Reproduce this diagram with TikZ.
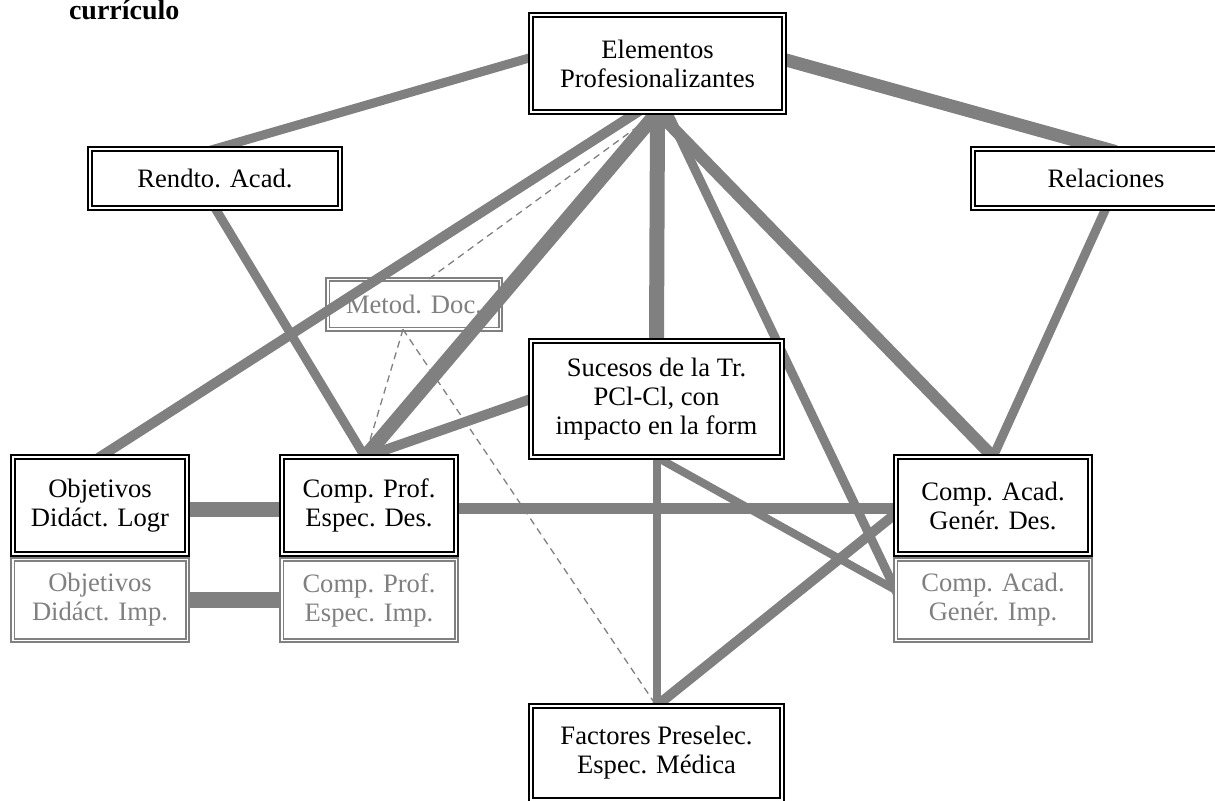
\documentclass[tikz,border=0pt]{standalone}
\usepackage{fontspec}
\setmainfont{Liberation Serif}
\definecolor{gris}{RGB}{128,128,128}
\pgfdeclarelayer{fondo}
\pgfdeclarelayer{lineas}
\pgfsetlayers{fondo,lineas,main}

\begin{document}
\begin{tikzpicture}[x=0.5pt,y=-0.5pt,
        font=\fontsize{13.3}{14.5}\selectfont,
        caja/.style={draw=black,double=white,double distance=0.9pt,line width=1pt,fill=white,
            align=center,inner sep=0pt,outer sep=0pt},
        cajagris/.style={draw=gris,text=gris,double=white,double distance=0.9pt,line width=0.85pt,
            fill=white,align=center,inner sep=0pt,outer sep=0pt},
        nexo/.style={draw=gris,line width=#1,shorten <=-5pt,shorten >=-5pt},
        nexod/.style={draw=gris,line width=0.65pt,dash pattern=on 3.5pt off 2.5pt}]
            \useasboundingbox (0,0) rectangle (1215,801);
            \clip (0,0) rectangle (1215,801);
            \node[anchor=base west,font=\fontsize{14}{16}\selectfont\bfseries] (titulo) at (62,20) {currículo};
            \node[caja,minimum width=126.6pt,minimum height=48.6pt] (elem) at (657.5,63.5) {Elementos\\Profesionalizantes};
            \node[caja,minimum width=125.1pt,minimum height=29.6pt] (rendto) at (215,178.5) {Rendto. Acad.};
            \node[caja,minimum width=133.1pt,minimum height=29.6pt] (relac) at (1106,178.5) {Relaciones};
            \node[caja,minimum width=125.6pt,minimum height=58.1pt] (suc) at (656.5,399) {Sucesos de la Tr.\\PCl-Cl, con\\impacto en la form};
            \node[cajagris,minimum width=87.4pt,minimum height=40.4pt] (objI) at (100,600) {Objetivos\\Didáct. Imp.};
            \node[cajagris,minimum width=87.4pt,minimum height=40.4pt] (cppI) at (369,600) {Comp. Prof.\\Espec. Imp.};
            \node[cajagris,minimum width=97.4pt,minimum height=40.4pt] (caI) at (993,600) {Comp. Acad.\\Genér. Imp.};
            \node[caja,minimum width=87.1pt,minimum height=48.6pt] (objL) at (100,505.5) {Objetivos\\Didáct. Logr};
            \node[caja,minimum width=87.1pt,minimum height=48.6pt] (cppD) at (369,505.5) {Comp. Prof.\\Espec. Des.};
            \node[caja,minimum width=97.1pt,minimum height=48.6pt] (caD) at (993,505.5) {Comp. Acad.\\Genér. Des.};
            \node[caja,minimum width=125.6pt,minimum height=47.1pt] (fact) at (656.5,753) {Factores Preselec.\\Espec. Médica};
            \begin{pgfonlayer}{fondo}
                \node[cajagris,minimum width=86.4pt,minimum height=24.9pt] (metod) at (414,304.5) {Metod. Doc.};
            \end{pgfonlayer}
            \begin{pgfonlayer}{lineas}
                \draw[nexo=4.5pt] ([yshift=3pt]elem.west) -- (rendto.north);
                \draw[nexo=6.5pt] ([yshift=2pt]elem.east) -- (relac.north);
                \draw[nexo=5pt] ([xshift=-10pt]elem.south) -- (objL.north);
                \draw[nexo=7pt] (elem.south) -- ([xshift=-2pt]cppD.north);
                \draw[nexo=7.5pt] (elem.south) -- (suc.north);
                \draw[nexo=6pt] (elem.south) -- (caD.north);
                \draw[nexo=4.5pt] ([xshift=5pt]elem.south) -- ([yshift=5pt]caI.west);
                \draw[nexo=4.5pt] (rendto.south) -- ([xshift=-2pt]cppD.north);
                \draw[nexo=4.5pt] (relac.south) -- (caD.north);
                \draw[nexo=5pt] (suc.west) -- ([xshift=-2pt]cppD.north);
                \draw[nexo=4pt] (suc.south) -- (fact.north);
                \draw[nexo=4pt] (suc.south) -- ([yshift=5pt]caI.west);
                \draw[nexo=5pt] (fact.north) -- ([yshift=-4pt]caD.west);
                \draw[nexo=7.5pt] ([yshift=-2pt]objL.east) -- ([yshift=-2pt]cppD.west);
                \draw[nexo=7.5pt] (objI.east) -- (cppI.west);
                \draw[nexo=5.5pt] ([yshift=-1.5pt]cppD.east) -- ([yshift=-1.5pt]caD.west);
                \draw[nexod] (elem.south) -- ([xshift=7pt]metod.north);
                \draw[nexod] ([xshift=-5.5pt]metod.south) -- ([xshift=-2pt]cppD.north);
                \draw[nexod] ([xshift=-5.5pt]metod.south) -- (fact.north);
            \end{pgfonlayer}
        \end{tikzpicture}
\end{document}
